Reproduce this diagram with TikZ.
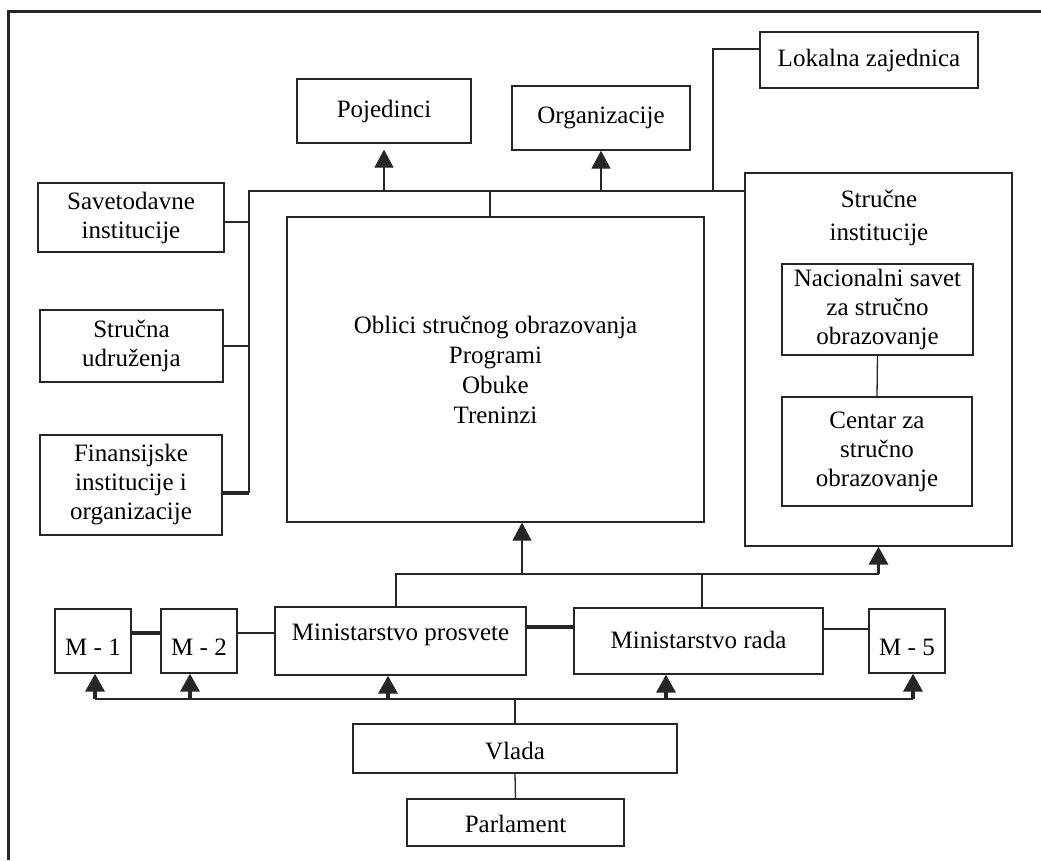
\documentclass[tikz,border=0pt]{standalone}
\usepackage{fontspec}
\setmainfont{Liberation Serif}
\usetikzlibrary{arrows.meta,calc}
\definecolor{ink}{HTML}{262626}
\begin{document}
\begin{tikzpicture}[x=1pt,y=-1pt,
  box/.style={draw=ink, text=black, line width=1.3pt, inner sep=0pt, align=center,
    font=\fontsize{25}{29}\selectfont},
  lbl/.style={text=black, inner sep=0pt, align=center, font=\fontsize{25}{29}\selectfont},
  conn/.style={draw=ink, line width=1.3pt},
  boldconn/.style={draw=ink, line width=4pt},
  arr/.style={draw=ink, fill=ink, line width=1.3pt, -{Triangle[width=19pt,length=18pt]}},
  barr/.style={draw=ink, fill=ink, line width=3.5pt, -{Triangle[width=19pt,length=18pt]}},
]
\useasboundingbox (0,0) rectangle (1041,860);
% frame
\draw[draw=ink, line width=3pt] (8,860) -- (8,11) -- (1041,11);

% top row
\node[box, minimum width=174pt, minimum height=64pt] (poj) at (384,111) {Pojedinci};
\node[box, minimum width=178pt, minimum height=64pt] (org) at (601,118) {Organizacije};
\node[box, minimum width=218pt, minimum height=56pt] (lok) at (869,60) {Lokalna zajednica};

% left column
\node[box, minimum width=186pt, minimum height=69pt] (sav) at (131,217.5) {Savetodavne\\institucije};
\node[box, minimum width=183pt, minimum height=72pt] (su) at (131.5,346) {Stručna\\udruženja};
\node[box, minimum width=182pt, minimum height=100pt] (fin) at (131,485) {Finansijske\\institucije i\\organizacije};

% main box
\node[box, minimum width=417pt, minimum height=305pt,
  font=\fontsize{25}{30}\selectfont] (main) at (495.5,369.5)
  {Oblici stručnog obrazovanja\\Programi\\Obuke\\Treninzi};

% strucne institucije
\node[box, minimum width=267pt, minimum height=373pt] (si) at (878.5,359.5) {};
\node[lbl, font=\fontsize{25}{33}\selectfont] (sit) at (879,218) {Stručne\\institucije};
\node[box, minimum width=191pt, minimum height=91pt] (nac) at (877.5,309.5) {Nacionalni savet\\za stručno\\obrazovanje};
\node[box, minimum width=190pt, minimum height=109pt] (cen) at (877,451.5) {Centar za\\stručno\\obrazovanje};

% ministries row
\node[box, minimum width=76pt, text height=46pt, text depth=18pt] (m1) at (93,641) {M - 1};
\node[box, minimum width=76pt, text height=46pt, text depth=18pt] (m2) at (199,641) {M - 2};
\node[box, minimum width=251pt, text height=33pt, text depth=35pt] (mp) at (400.5,641) {Ministarstvo prosvete};
\node[box, minimum width=249pt, text height=40pt, text depth=26pt] (mr) at (698.5,641) {Ministarstvo rada};
\node[box, minimum width=76pt, text height=46pt, text depth=18pt] (m5) at (907,641) {M - 5};

% government
\node[box, minimum width=324pt, text height=35pt, text depth=14pt] (vl) at (515,748.5) {Vlada};
\node[box, minimum width=217pt, text height=33pt, text depth=14pt] (par) at (515.5,822.5) {Parlament};

% bus coordinates
\coordinate (tl) at (249,191);
\coordinate (bl) at (249,493);
\coordinate (mb) at (396,574);
\coordinate (lb) at (518,699);

% upper bus
\draw[conn] (bl) -- (tl) -- (tl -| si.west);
\draw[boldconn] (fin.east |- bl) -- (bl);
\draw[conn] (sav.east |- 0,222) -- (tl |- 0,222);
\draw[conn] (su.east) -- (su.east -| tl);
\draw[conn] (tl -| 490,0) -- (main.north -| 490,0);
\draw[arr, shorten >=6pt] (poj.south |- tl) -- (poj.south);
\draw[arr] (org.south |- tl) -- (org.south);
\draw[conn] (tl -| 713,0) -- (713,49) -- (lok.west |- 0,49);
\draw[conn] (nac.south) -- (cen.north);

% middle bus
\draw[conn] (mp.north -| mb) -- (mb) -- (mb -| si.south);
\draw[barr] (mb -| si.south) -- (si.south);
\draw[arr] (mb -| 522,0) -- (main.south -| 522,0);
\draw[conn] (mb -| 702,0) -- (mr.north -| 702,0);

% ministry links
\draw[boldconn] (m1.east |- 0,633) -- (m2.west |- 0,633);
\draw[conn] (m2.east |- 0,633) -- (mp.west |- 0,633);
\draw[boldconn] (mp.east |- 0,627) -- (mr.west |- 0,627);
\draw[conn] (mr.east |- 0,629) -- (m5.west |- 0,629);

% lower bus
\draw[conn] (lb -| 95,0) -- (lb -| 913,0);
\draw[barr] (lb -| 95,0) -- (m1.south -| 95,0);
\draw[barr] (lb -| 190,0) -- (m2.south -| 190,0);
\draw[barr] (lb -| 388,0) -- (mp.south -| 388,0);
\draw[barr] (lb -| 666,0) -- (mr.south -| 666,0);
\draw[barr] (lb -| 913,0) -- (m5.south -| 913,0);
\draw[conn] (vl.north |- lb) -- (vl.north);
\draw[conn] (vl.south) -- (par.north);
\end{tikzpicture}
\end{document}
